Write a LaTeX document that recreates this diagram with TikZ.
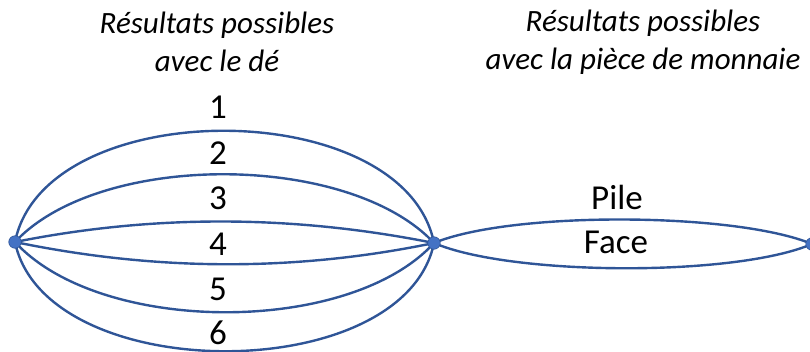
\documentclass[tikz,border=0pt]{standalone}
\usepackage{fontspec}
\setmainfont{Carlito}
\usetikzlibrary{backgrounds}
\definecolor{arcblue}{HTML}{2F5597}
\definecolor{dotblue}{HTML}{4472C4}
\begin{document}
\begin{tikzpicture}[x=1pt,y=-1pt,
  dot/.style={circle,fill=dotblue,draw=arcblue,line width=.6pt,inner sep=0pt,minimum size=12.5pt},
  arc/.style={draw=arcblue,line width=2.4pt},
  num/.style={font=\fontsize{35}{42}\selectfont,inner sep=1pt},
  titre/.style={font=\fontsize{31}{38}\selectfont\itshape,align=center}]
\useasboundingbox (0,0) rectangle (810,351);
\node[titre] (tde) at (217,42) {Résultats possibles\\avec le dé};
\node[titre] (tpiece) at (643,42) {Résultats possibles\\avec la pièce de monnaie};
\node[dot] (dL) at (15,242) {};
\node[dot] (dM) at (434,243) {};
\node[dot] (dR) at (812,244) {};
\begin{scope}[on background layer]
\foreach \c/\k in {30/-149,85/-91,140/-28,140/29,85/93,30/145}
  \draw[arc] (dL.center) .. controls +(\c,\k) and +(-\c,\k) .. (dM.center);
\draw[arc] (dM.center) .. controls +(77,-32) and +(-77,-32) .. (dR.center);
\draw[arc] (dM.center) .. controls +(77,33) and +(-77,33) .. (dR.center);
\end{scope}
\node[num] (n1) at (218,107) {1};
\node[num] (n2) at (218,153) {2};
\node[num] (n3) at (218,198) {3};
\node[num] (n4) at (218,244) {4};
\node[num] (n5) at (218,289) {5};
\node[num] (n6) at (218,333) {6};
\node[num] (pile) at (617,197) {Pile};
\node[num] (face) at (616,242) {Face};
\end{tikzpicture}
\end{document}
